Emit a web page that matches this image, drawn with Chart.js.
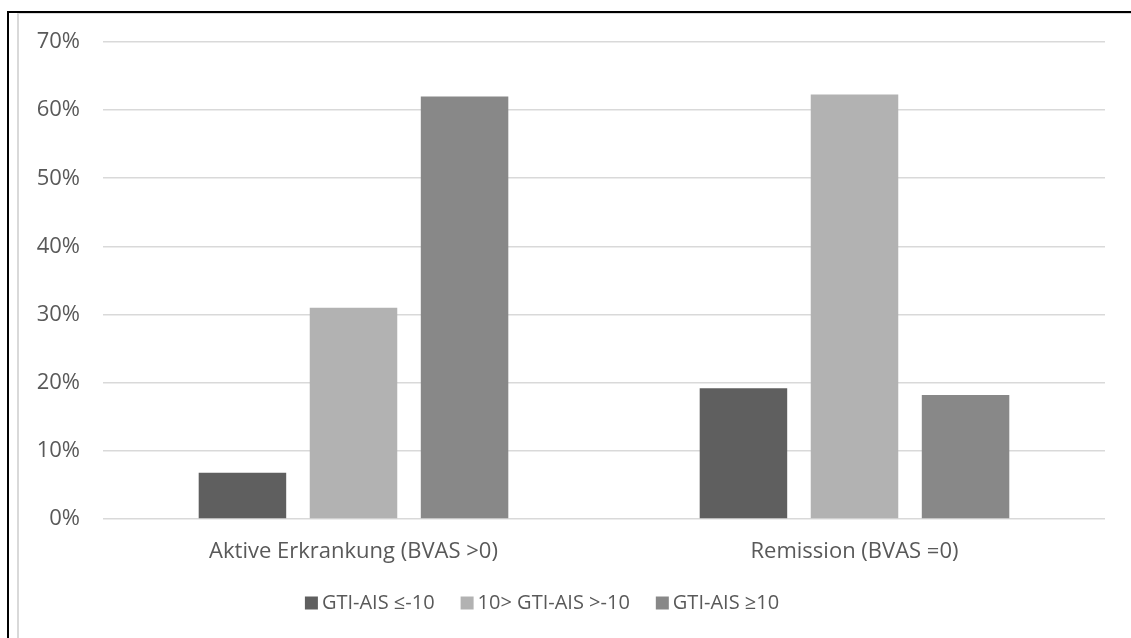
<!DOCTYPE html>
<html>
<head>
<meta charset="utf-8">
<script src="https://cdn.jsdelivr.net/npm/chart.js@4/dist/chart.umd.min.js"></script>
<style>
  html, body { margin: 0; padding: 0; background: #ffffff; }
  body { width: 1131px; height: 638px; position: relative; overflow: hidden; }
  .outer { position: absolute; left: 7px; top: 11px; right: -10px; bottom: -10px;
           border-left: 2px solid #000; border-top: 2px solid #000; }
  .inner { position: absolute; left: 17px; top: 13px; right: -10px; bottom: -10px;
           border-left: 2px solid #d9d9d9; border-top: 1px solid #d9d9d9; }
  /* canvas extends a little past the left edge so the legend sits centred under the page */
  #wrap { position: absolute; left: -15px; top: 0; width: 1146px; height: 638px; }
</style>
</head>
<body>
<div class="outer"></div>
<div class="inner"></div>
<div id="wrap"><canvas id="chart"></canvas></div>
<script>
// Categories and series (share of patients, %)
const categories = ['Aktive Erkrankung (BVAS >0)', 'Remission (BVAS =0)'];
const seriesNames = ['GTI-AIS ≤-10', '10> GTI-AIS >-10', 'GTI-AIS ≥10'];
const lowScore = [6.8, 19.2];
const midScore = [31.0, 62.3];
const highScore = [62.0, 18.2];
const yTicks = [0, 10, 20, 30, 40, 50, 60, 70];

const seriesColors = ['#5f5f5f', '#b2b2b2', '#888888'];
const textColor = '#595959';
const fontFamily = "'Open Sans', 'Liberation Sans', sans-serif";

const datasets = [lowScore, midScore, highScore].map((values, i) => ({
  label: seriesNames[i],
  data: values,
  backgroundColor: seriesColors[i],
  borderWidth: 0,
  categoryPercentage: 0.665,
  barPercentage: 0.788
}));

// The legend's label padding also sets its top inset; pull the box up so the
// wide horizontal item spacing doesn't push the row down.
const legendLift = {
  id: 'legendLift',
  afterLayout(chart) {
    const lg = chart.legend;
    if (lg) { lg.top -= 6; lg.bottom -= 6; }
  }
};

new Chart(document.getElementById('chart'), {
  type: 'bar',
  data: { labels: categories, datasets },
  plugins: [legendLift],
  options: {
    responsive: true,
    maintainAspectRatio: false,
    animation: false,
    layout: { padding: { top: 42, right: 26, bottom: 9, left: 0 } },
    plugins: {
      tooltip: { enabled: false },
      legend: {
        position: 'bottom',
        labels: {
          color: textColor,
          font: { family: fontFamily, size: 20 },
          usePointStyle: true,
          pointStyle: 'rect',
          boxWidth: 1,
          boxHeight: 13,
          padding: 32
        }
      }
    },
    scales: {
      x: {
        grid: { display: false, drawTicks: false },
        border: { display: false },
        ticks: { color: textColor, font: { family: fontFamily, size: 22 }, padding: 20 },
        afterFit: (scale) => { scale.height = 48; }
      },
      y: {
        min: 0,
        max: 70,
        afterBuildTicks: (scale) => { scale.ticks = yTicks.map(v => ({ value: v })); },
        grid: { color: '#d9d9d9', lineWidth: 1.6, drawTicks: false },
        border: { display: false },
        ticks: {
          color: textColor,
          font: { family: fontFamily, size: 22 },
          padding: 23,
          callback: (v) => v + '%'
        },
        afterFit: (scale) => { scale.width = 118; }
      }
    }
  }
});
</script>
</body>
</html>
